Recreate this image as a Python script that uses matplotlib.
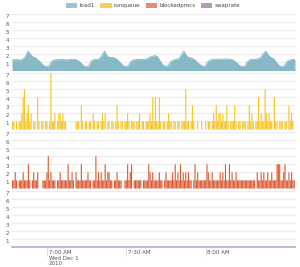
import pandas as pd
import matplotlib
matplotlib.use("Agg")
import matplotlib.pyplot as plt
import matplotlib.dates as mdates
from matplotlib.patches import Patch
from matplotlib.transforms import ScaledTranslation

# series names and colours
series_names = ["load1", "runqueue", "blockedprocs", "swaprate"]
fill_colors = ["#87b8c5", "#f6c423", "#dc5b34", "#c7aecb"]
legend_colors = ["#96c5d3", "#f3d05e", "#e38b73", "#b79aba"]

# samples start here (Wed Dec 1 2010)
start_time = "2010-12-01 06:46:45"

# load1, one sample per minute
load1 = [
    1.35, 1.33, 1.35, 1.30, 1.40, 1.70, 2.40, 2.00, 1.65, 1.55,
    1.25, 0.95, 0.60, 0.50, 0.55, 1.15, 1.30, 1.35, 1.33, 1.38,
    1.35, 1.32, 1.40, 1.35, 1.38, 1.20, 0.95, 0.60, 0.50, 0.55,
    1.20, 1.35, 1.40, 1.45, 1.90, 2.40, 1.80, 1.62, 1.60, 1.55,
    1.30, 0.95, 0.60, 0.50, 0.60, 1.15, 1.33, 1.35, 1.38, 1.35,
    1.40, 1.45, 1.65, 1.75, 1.85, 1.70, 1.20, 0.70, 0.50, 0.60,
    1.10, 1.30, 1.40, 1.45, 1.90, 2.40, 1.80, 1.60, 1.55, 1.35,
    1.05, 0.75, 0.55, 0.50, 1.10, 1.30, 1.40, 1.38, 1.40, 1.42,
    1.38, 1.45, 1.40, 1.38, 1.20, 0.95, 0.60, 0.50, 0.50, 1.10,
    1.35, 1.40, 1.38, 1.45, 1.60, 2.10, 2.40, 1.85, 1.60, 1.45,
    1.00, 0.60, 0.50, 0.60, 1.15, 1.30, 1.38, 1.35,
]

# runqueue and blockedprocs, one sample every 30 seconds
runqueue = [
    1, 1, 0, 1, 0, 1, 1, 2, 4, 5, 1, 2, 3, 1, 2, 0, 1, 1, 0, 4,
    1, 0, 1, 1, 0, 1, 1, 0, 1, 7, 1, 1, 2, 0, 1, 2, 2, 1, 2, 1,
    1, 0, 0, 0, 0, 0, 0, 0, 1, 1, 1, 0, 3, 1, 0, 1, 1, 0, 1, 1,
    0, 2, 1, 0, 1, 1, 0, 1, 2, 1, 2, 0, 1, 1, 0, 1, 1, 0, 1, 3,
    1, 0, 1, 1, 0, 1, 1, 2, 1, 0, 1, 1, 1, 0, 1, 1, 2, 0, 1, 1,
    0, 1, 1, 1, 2, 1, 4, 1, 4, 1, 1, 4, 1, 0, 1, 1, 0, 1, 2, 1,
    1, 0, 1, 1, 0, 1, 1, 0, 1, 1, 1, 5, 1, 1, 0, 1, 3, 1, 0, 0,
    1, 0, 0, 1, 0, 0, 1, 0, 1, 1, 0, 1, 2, 1, 3, 1, 2, 2, 1, 2,
    1, 1, 3, 1, 0, 1, 1, 1, 3, 1, 0, 1, 1, 0, 1, 1, 1, 0, 1, 3,
    1, 2, 1, 0, 1, 1, 4, 1, 2, 1, 1, 5, 2, 1, 2, 1, 1, 0, 4, 1,
    1, 0, 1, 1, 1, 0, 1, 1, 0, 3, 1, 2, 1, 0, 1,
]

blockedprocs = [
    1, 1, 2, 1, 0, 1, 1, 1, 2, 1, 1, 1, 3, 1, 0, 1, 2, 1, 1, 2,
    0, 0, 0, 1, 1, 1, 2, 4, 1, 2, 1, 1, 1, 0, 1, 1, 2, 1, 1, 1,
    1, 1, 3, 1, 1, 2, 1, 0, 2, 1, 1, 1, 3, 1, 1, 1, 1, 2, 1, 1,
    0, 1, 1, 4, 1, 2, 1, 2, 1, 1, 3, 1, 2, 2, 1, 1, 0, 1, 1, 2,
    1, 1, 1, 0, 0, 1, 1, 3, 1, 2, 3, 0, 1, 1, 1, 1, 1, 1, 0, 1,
    1, 1, 1, 3, 2, 1, 2, 1, 1, 1, 1, 2, 1, 1, 0, 1, 2, 1, 1, 1,
    1, 2, 1, 3, 1, 2, 1, 3, 1, 2, 1, 2, 1, 2, 1, 1, 0, 1, 3, 1,
    2, 1, 1, 1, 1, 1, 1, 3, 2, 1, 1, 2, 1, 1, 1, 1, 1, 2, 1, 2,
    1, 3, 1, 1, 3, 1, 2, 1, 1, 2, 1, 1, 1, 1, 1, 1, 1, 1, 1, 1,
    1, 1, 1, 1, 0, 2, 1, 1, 2, 1, 2, 1, 1, 2, 1, 1, 2, 1, 1, 1,
    3, 3, 3, 1, 1, 2, 3, 1, 1, 2, 1, 2, 1, 1, 1,
]

# swaprate stays at zero the whole time
swaprate = [0] * len(load1)

tick_times = ["2010-12-01 07:00", "2010-12-01 07:30", "2010-12-01 08:00"]
tick_labels = ["7:00 AM\nWed Dec 1\n2010", "7:30 AM", "8:00 AM"]


def main():
    t0 = pd.Timestamp(start_time)
    t_end = t0 + pd.Timedelta(minutes=107)
    t_load = pd.date_range(t0, periods=len(load1), freq="1min")
    t_fast = mdates.date2num(pd.date_range(t0, periods=len(runqueue), freq="30s").to_pydatetime())
    bar_w = 26 / 86400  # in days

    W, H = 300, 267
    fig = plt.figure(figsize=(W / 100, H / 100), dpi=100)

    # bottoms (pixels from top) of the four stacked panels
    bottoms = [70.5, 129.5, 188.5, 247]
    unit = 8.07
    ytop = 7.15
    axes = []
    for b in bottoms:
        h = ytop * unit
        ax = fig.add_axes([12 / W, 1 - b / H, 283 / W, h / H])
        axes.append(ax)

    # load1 area
    ax = axes[0]
    ax.fill_between(t_load, load1, 0, color=fill_colors[0], lw=0)
    ax.plot(t_load, load1, color=fill_colors[0], lw=0.6)

    # runqueue / blockedprocs as narrow bars
    for ax, vals, col in [(axes[1], runqueue, fill_colors[1]), (axes[2], blockedprocs, fill_colors[2])]:
        bars = ax.bar(t_fast, vals, width=bar_w, align="edge", color=col, lw=0)
        for r in bars:
            r.set_snap(False)
        ax.xaxis_date()

    # swaprate sits on the bottom
    axes[3].plot(t_load, swaprate, color=fill_colors[3], lw=1.3, clip_on=False, zorder=3)

    for i, ax in enumerate(axes):
        ax.set_xlim(mdates.date2num(t0.to_pydatetime()), mdates.date2num(t_end.to_pydatetime()))
        ax.set_ylim(0, ytop)
        ax.set_yticks(range(1, 8))
        ax.set_yticklabels([str(v) for v in range(1, 8)], va="top")
        ax.tick_params(axis="y", length=0, labelsize=4, labelcolor="#555555", pad=2)
        ax.grid(axis="y", color="#ececec", lw=0.8)
        ax.set_axisbelow(True)
        for s in ax.spines.values():
            s.set_visible(False)
        if i < 3:
            ax.tick_params(axis="x", bottom=False, labelbottom=False)

    ax = axes[3]
    ticks = mdates.date2num(pd.to_datetime(tick_times).to_pydatetime())
    ax.set_xticks(ticks)
    ax.set_xticklabels(tick_labels, ha="left", va="top", linespacing=1.05)
    ax.tick_params(axis="x", length=0, labelsize=4, labelcolor="#555555", pad=2.5)
    shift = ScaledTranslation(1.2 / 72, 0, fig.dpi_scale_trans)
    for lab in ax.get_xticklabels():
        lab.set_transform(lab.get_transform() + shift)
    # long tick marks hanging under the axis
    for t in ticks:
        ax.plot([t, t], [0, -0.16], transform=ax.get_xaxis_transform(),
                color="#d0d0d0", lw=0.5, clip_on=False)

    handles = [Patch(facecolor=c, edgecolor="none") for c in legend_colors]
    fig.legend(handles, series_names, loc="center", bbox_to_anchor=(153 / W, 1 - 5.5 / H),
               ncol=4, frameon=False, fontsize=4, handlelength=2.0, handleheight=0.9,
               handletextpad=0.4, columnspacing=1.0, labelcolor="#444444")

    fig.savefig("out.png", dpi=100)


main()
